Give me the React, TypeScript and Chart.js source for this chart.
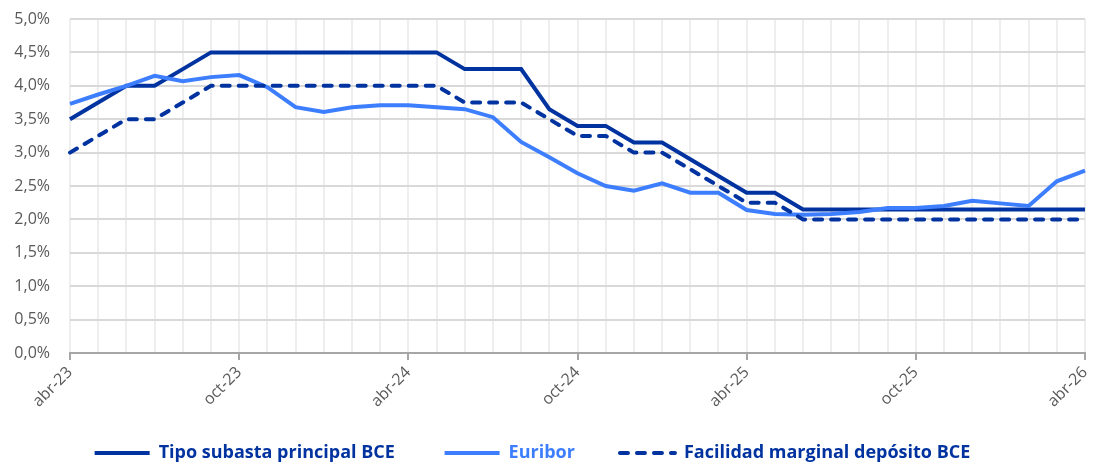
import { useEffect, useRef } from 'react';
import { Chart, registerables } from 'chart.js';

Chart.register(...registerables);

const months = [
  'abr-23', 'may-23', 'jun-23', 'jul-23', 'ago-23', 'sep-23', 'oct-23', 'nov-23', 'dic-23',
  'ene-24', 'feb-24', 'mar-24', 'abr-24', 'may-24', 'jun-24', 'jul-24', 'ago-24', 'sep-24',
  'oct-24', 'nov-24', 'dic-24', 'ene-25', 'feb-25', 'mar-25', 'abr-25', 'may-25', 'jun-25',
  'jul-25', 'ago-25', 'sep-25', 'oct-25', 'nov-25', 'dic-25', 'ene-26', 'feb-26', 'mar-26', 'abr-26',
];

const tipoSubasta = [
  3.5, 3.75, 4.0, 4.0, 4.25, 4.5, 4.5, 4.5, 4.5, 4.5, 4.5, 4.5, 4.5, 4.5, 4.25, 4.25, 4.25, 3.65,
  3.4, 3.4, 3.15, 3.15, 2.9, 2.65, 2.4, 2.4, 2.15, 2.15, 2.15, 2.15, 2.15, 2.15, 2.15, 2.15, 2.15, 2.15, 2.15,
];

const euribor = [
  3.73, 3.87, 4.0, 4.15, 4.07, 4.13, 4.16, 3.98, 3.68, 3.61, 3.68, 3.71, 3.71, 3.68, 3.65, 3.53, 3.16,
  2.93, 2.69, 2.5, 2.43, 2.54, 2.4, 2.4, 2.14, 2.08, 2.07, 2.08, 2.11, 2.17, 2.17, 2.2, 2.28, 2.24, 2.2, 2.57, 2.73,
];

const facilidadDeposito = [
  3.0, 3.25, 3.5, 3.5, 3.75, 4.0, 4.0, 4.0, 4.0, 4.0, 4.0, 4.0, 4.0, 4.0, 3.75, 3.75, 3.75, 3.5,
  3.25, 3.25, 3.0, 3.0, 2.75, 2.5, 2.25, 2.25, 2.0, 2.0, 2.0, 2.0, 2.0, 2.0, 2.0, 2.0, 2.0, 2.0, 2.0,
];

const seriesNames = ['Tipo subasta principal BCE', 'Euribor', 'Facilidad marginal depósito BCE'];
const legendTrail = [10, 9, 6];

const DARK = '#0033a0';
const LIGHT = '#3d7eff';
const FONT = "'Open Sans', 'Noto Sans', sans-serif";

export default function App() {
  const ref = useRef<HTMLCanvasElement>(null);

  useEffect(() => {
    if (!ref.current) return;
    const chart = new Chart(ref.current, {
      type: 'line',
      data: {
        labels: months,
        datasets: [
          {
            label: seriesNames[0],
            data: tipoSubasta,
            borderColor: DARK,
            backgroundColor: DARK,
            borderWidth: 4,
            pointRadius: 0,
            tension: 0,
            order: 3,
          },
          {
            label: seriesNames[1],
            data: euribor,
            borderColor: LIGHT,
            backgroundColor: LIGHT,
            borderWidth: 4,
            pointRadius: 0,
            tension: 0,
            order: 2,
          },
          {
            label: seriesNames[2],
            data: facilidadDeposito,
            borderColor: DARK,
            backgroundColor: DARK,
            borderWidth: 4,
            borderDash: [8, 9],
            borderCapStyle: 'round',
            pointRadius: 0,
            tension: 0,
            order: 1,
          },
        ],
      },
      options: {
        responsive: false,
        animation: false,
        layout: { padding: { top: 11, right: 2, left: 0, bottom: -8 } },
        plugins: {
          tooltip: { enabled: false },
          legend: {
            position: 'bottom',
            labels: {
              usePointStyle: true,
              pointStyle: 'line',
              pointStyleWidth: 55,
              padding: 3,
              font: { family: FONT, size: 18, weight: 'bold' },
              generateLabels: (c: any) =>
                c.data.datasets.map((ds: any, i: number) => ({
                  text: ds.label + ' '.repeat(legendTrail[i]),
                  fillStyle: ds.borderColor,
                  strokeStyle: ds.borderColor,
                  fontColor: ds.borderColor,
                  lineWidth: ds.borderWidth,
                  lineDash: ds.borderDash || [],
                  lineCap: ds.borderCapStyle || 'butt',
                  pointStyle: 'line',
                  hidden: false,
                  datasetIndex: i,
                })),
            },
          },
        },
        scales: {
          x: {
            type: 'category',
            offset: false,
            border: { display: true, color: '#a6a6a6', width: 2 },
            grid: {
              color: '#eeeeee',
              lineWidth: 2,
              drawTicks: true,
              tickLength: 7,
              tickWidth: 2,
              tickColor: (ctx: any) => (ctx.index % 6 === 0 ? '#a6a6a6' : 'rgba(0,0,0,0)'),
            },
            ticks: {
              autoSkip: false,
              maxRotation: 45,
              minRotation: 45,
              padding: 3,
              color: '#595959',
              font: { family: FONT, size: 16 },
              callback: (_v: any, i: number) => (i % 6 === 0 ? months[i] : ''),
            },
            afterFit: (s: any) => {
              s.height = 88;
              s.paddingLeft = 0;
              s.paddingRight = 0;
            },
          },
          y: {
            min: 0,
            max: 5,
            border: { display: false },
            grid: { color: '#d9d9d9', lineWidth: 2, drawTicks: false },
            ticks: {
              stepSize: 0.5,
              padding: 20,
              color: '#595959',
              font: { family: FONT, size: 16 },
              callback: (v: any) => Number(v).toFixed(1).replace('.', ',') + '%',
            },
            afterFit: (s: any) => {
              s.width = 62;
              s.paddingTop = 0;
              s.paddingBottom = 0;
            },
          },
        },
      },
    });
    return () => chart.destroy();
  }, []);

  return (
    <div style={{ position: 'absolute', left: 8, top: 8, width: 1079, height: 456 }}>
      <canvas ref={ref} width={1079} height={456} />
    </div>
  );
}
